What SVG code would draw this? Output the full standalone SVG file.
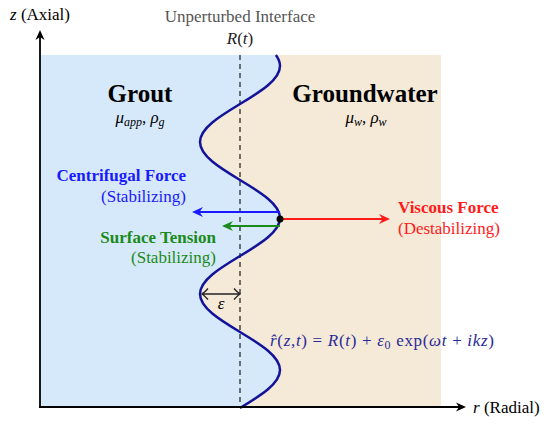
<svg xmlns="http://www.w3.org/2000/svg" width="550" height="424" viewBox="0 0 550 424" font-family="'Liberation Serif', 'DejaVu Serif', serif">
<style>
text{font-family:'Liberation Serif','DejaVu Serif',serif;}
.lab{font-size:17px;}
.big{font-size:25px;font-weight:bold;fill:#000;}
.it{font-style:italic;}
.sub{font-size:12px;font-style:italic;}
.bl{fill:#1a1aff;} .gr{fill:#1a8a1a;} .rd{fill:#ff1a1a;}
.b{font-weight:bold;}
</style>
<defs>
<marker id="hk" viewBox="-11 -6 13 12" refX="-4" refY="0" markerWidth="13" markerHeight="12" markerUnits="userSpaceOnUse" orient="auto"><path d="M0,0 L-10,-4.5 L-7,0 L-10,4.5 Z" fill="#000"/></marker>
<marker id="hb" viewBox="-12 -6 13 12" refX="-4" refY="0" markerWidth="13" markerHeight="12" markerUnits="userSpaceOnUse" orient="auto"><path d="M0,0 L-11,-5 L-7.5,0 L-11,5 Z" fill="#1a1aff"/></marker>
<marker id="hg" viewBox="-12 -6 13 12" refX="-4" refY="0" markerWidth="13" markerHeight="12" markerUnits="userSpaceOnUse" orient="auto"><path d="M0,0 L-11,-5 L-7.5,0 L-11,5 Z" fill="#1a8a1a"/></marker>
<marker id="hr" viewBox="-12 -6 13 12" refX="-4" refY="0" markerWidth="13" markerHeight="12" markerUnits="userSpaceOnUse" orient="auto"><path d="M0,0 L-11,-5 L-7.5,0 L-11,5 Z" fill="#ff1a1a"/></marker>
<marker id="ho" viewBox="-8 -7 9 14" refX="0" refY="0" markerWidth="9" markerHeight="14" markerUnits="userSpaceOnUse" orient="auto-start-reverse"><path d="M-6,-5.5 Q-2,-1.2 0,0 Q-2,1.2 -6,5.5" fill="none" stroke="#222" stroke-width="1.4"/></marker>
</defs>

<g id="regions">
<rect x="40" y="55" width="401" height="352" fill="#f5e9d7"/>
<path d="M40,55 L275.9,55 C278.56,58.67 280,62.33 280,66 C280,79.75 260.49,91.61 240,104 C219.51,116.39 200,128.25 200,142 C200,155.75 219.51,167.61 240,180 C260.49,192.39 280,204.25 280,218 C280,231.75 260.49,243.61 240,256 C219.51,268.39 200,280.25 200,294 C200,307.75 219.51,319.61 240,332 C260.49,344.39 280,356.25 280,370 C280,383.75 260.49,395.61 240,408 L40,408 Z" fill="#d6e9fb"/>
</g>

<g id="unperturbed-interface">
<line x1="240" y1="55" x2="240" y2="407" stroke="#444" stroke-width="1.5" stroke-dasharray="5,4"/>
<text x="240" y="22" text-anchor="middle" class="lab" fill="#555" font-size="16.5">Unperturbed Interface</text>
<text x="240" y="44" text-anchor="middle" class="lab" fill="#222"><tspan class="it">R</tspan>(<tspan class="it">t</tspan>)</text>
</g>

<g id="interface-curve">
<path d="M275.9,55 C278.56,58.67 280,62.33 280,66 C280,79.75 260.49,91.61 240,104 C219.51,116.39 200,128.25 200,142 C200,155.75 219.51,167.61 240,180 C260.49,192.39 280,204.25 280,218 C280,231.75 260.49,243.61 240,256 C219.51,268.39 200,280.25 200,294 C200,307.75 219.51,319.61 240,332 C260.49,344.39 280,356.25 280,370 C280,383.75 260.49,395.61 240,408" fill="none" stroke="#12129a" stroke-width="2.5"/>
<text x="270" y="346" class="lab" fill="#2a2a9a" font-size="18" textLength="224" lengthAdjust="spacing"><tspan class="it">r̂</tspan>(<tspan class="it">z</tspan>,<tspan class="it">t</tspan>) = <tspan class="it">R</tspan>(<tspan class="it">t</tspan>) + <tspan class="it">ε</tspan><tspan font-size="12" dy="3">0</tspan><tspan dy="-3"> exp(</tspan><tspan class="it">ωt</tspan> + <tspan class="it">ikz</tspan>)</text>
</g>

<g id="grout">
<text x="140" y="102" text-anchor="middle" class="big">Grout</text>
<text x="140" y="123" text-anchor="middle" class="lab" fill="#000" font-size="18"><tspan class="it">μ</tspan><tspan class="sub" dy="3">app</tspan><tspan dy="-3">, </tspan><tspan class="it">ρ</tspan><tspan class="sub" dy="3">g</tspan></text>
</g>

<g id="groundwater">
<text x="365" y="102" text-anchor="middle" class="big">Groundwater</text>
<text x="366" y="123" text-anchor="middle" class="lab" fill="#000" font-size="18"><tspan class="it">μ</tspan><tspan class="sub" dy="3">w</tspan><tspan dy="-3">, </tspan><tspan class="it">ρ</tspan><tspan class="sub" dy="3">w</tspan></text>
</g>

<g id="centrifugal-force">
<text x="186" y="181" text-anchor="end" class="lab bl b">Centrifugal Force</text>
<text x="186" y="202" text-anchor="end" class="lab bl">(Stabilizing)</text>
</g>

<g id="surface-tension">
<text x="216" y="243" text-anchor="end" class="lab gr b">Surface Tension</text>
<text x="216" y="263" text-anchor="end" class="lab gr">(Stabilizing)</text>
</g>

<g id="viscous-force">
<text x="398" y="213" class="lab rd b">Viscous Force</text>
<text x="398" y="234" class="lab rd">(Destabilizing)</text>
</g>

<g id="axes">
<text x="10" y="20" class="lab" fill="#000"><tspan class="it">z</tspan> (Axial)</text>
<text x="473" y="413" class="lab" fill="#000"><tspan class="it">r</tspan> (Radial)</text>
</g>

<g id="epsilon">
<text x="221" y="309" text-anchor="middle" class="lab it" fill="#000">ε</text>
</g>

<g id="connectors">
<line x1="40" y1="408" x2="40" y2="34" stroke="#000" stroke-width="1.8" marker-end="url(#hk)"/>
<line x1="39" y1="407" x2="462" y2="407" stroke="#000" stroke-width="1.8" marker-end="url(#hk)"/>
<line x1="280" y1="212" x2="196" y2="212" stroke="#1a1aff" stroke-width="2" marker-end="url(#hb)"/>
<line x1="280" y1="226" x2="226" y2="226" stroke="#1a8a1a" stroke-width="2" marker-end="url(#hg)"/>
<line x1="280" y1="219" x2="386" y2="219" stroke="#ff1a1a" stroke-width="2" marker-end="url(#hr)"/>
<line x1="202" y1="294" x2="240" y2="294" stroke="#222" stroke-width="1.4" marker-start="url(#ho)" marker-end="url(#ho)"/>
<circle cx="280" cy="219" r="3.5" fill="#000"/>
</g>
</svg>
